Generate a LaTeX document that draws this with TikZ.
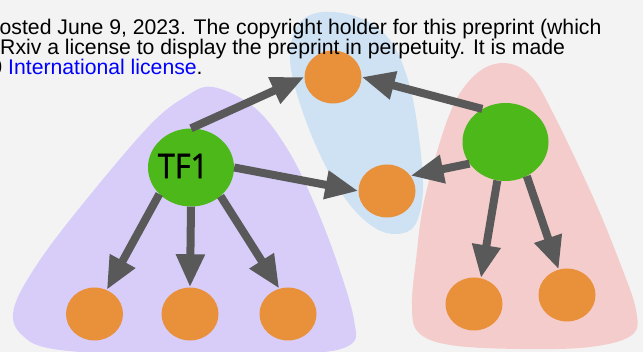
\documentclass[tikz,border=0pt]{standalone}
\usepackage{fontspec}
\setmainfont{Liberation Sans}
\newfontfamily\tffont[FakeBold=1.2]{Open Sans}
\usetikzlibrary{shapes.geometric,arrows.meta}
\definecolor{bgc}{HTML}{F3F3F3}
\definecolor{purp}{HTML}{D8CDF9}
\definecolor{bluec}{HTML}{CFE2F3}
\definecolor{pinkc}{HTML}{F4CCCC}
\definecolor{greenc}{HTML}{4CB819}
\definecolor{orangec}{HTML}{E8913A}
\definecolor{arrc}{HTML}{595959}
\definecolor{linkc}{HTML}{0000FF}
\tikzset{
  onode/.style={ellipse, fill=orangec, draw=none, inner sep=0pt, minimum width=57pt, minimum height=53pt},
  gnode/.style={ellipse, fill=greenc, draw=none, inner sep=0pt, minimum width=86pt, minimum height=78pt},
  conn/.style={draw=arrc, line width=8pt, -{Triangle[length=33pt,width=27pt]}},
  hdr/.style={anchor=base west, inner sep=0pt, font=\fontsize{21.2}{20}\selectfont}
}
\begin{document}
\begin{tikzpicture}[x=1pt,y=-1pt]
\useasboundingbox (0,0) rectangle (643,352);
\clip (0,0) rectangle (643,352);
\fill[bgc] (0,0) rectangle (643,352);
% blobs
\fill[purp] plot[smooth cycle, tension=0.6] coordinates {(213,87) (255,108) (288,150) (315,205) (338,265) (354,320) (350,345) (300,354) (180,356) (60,350) (22,335) (14,308) (40,260) (90,195) (150,125) (185,97)};
\fill[bluec] plot[smooth cycle, tension=0.6] coordinates {(322,12) (360,18) (390,40) (408,80) (418,130) (423,190) (415,225) (397,234) (375,228) (350,205) (325,165) (302,110) (290,60) (298,25)};
\fill[pinkc] plot[smooth cycle, tension=0.6] coordinates {(503,63) (530,75) (553,113) (593,197) (620,263) (636,310) (632,335) (590,347) (520,349) (450,345) (418,332) (412,305) (416,260) (425,197) (450,113) (475,75)};
% nodes
\node[gnode] (tf1) at (191,167.5) {\makebox[0pt]{\hspace*{-16pt}\raisebox{3pt}{\tffont\fontsize{34}{34}\selectfont\scalebox{0.9}[1]{TF1}}}};
\node[gnode] (g2) at (505.5,142) {};
\node[onode] (o1) at (333,77) {};
\node[onode] (o2) at (387,191) {};
\node[onode] (b1) at (94.5,314) {};
\node[onode] (b2) at (190,314) {};
\node[onode] (b3) at (288,314) {};
\node[onode] (b4) at (474,304) {};
\node[onode] (b5) at (567,295) {};
% connectors
\draw[conn] (tf1.north) -- (o1.west);
\draw[conn] (tf1.east) -- (o2.west);
\draw[conn] (g2.125) -- (o1.east);
\draw[conn] (g2.211) -- (o2.33);
\draw[conn] (tf1.220) -- (b1.63);
\draw[conn] (tf1.south) -- (b2.north);
\draw[conn] (tf1.316) -- (b3.109);
\draw[conn] (g2.258) -- (b4.75);
\draw[conn] (g2.302) -- (b5.108);
% header text
\node[hdr] (l1) at (-0.5,35) {osted June 9, 2023. The copyright holder for this preprint (which};
\node[hdr] (l2) at (0,55) {Rxiv a license to display the preprint in perpetuity. It is made};
\node[hdr] (l3) at (-9.7,75) {0 {\color{linkc}International license}.};
\end{tikzpicture}
\end{document}
